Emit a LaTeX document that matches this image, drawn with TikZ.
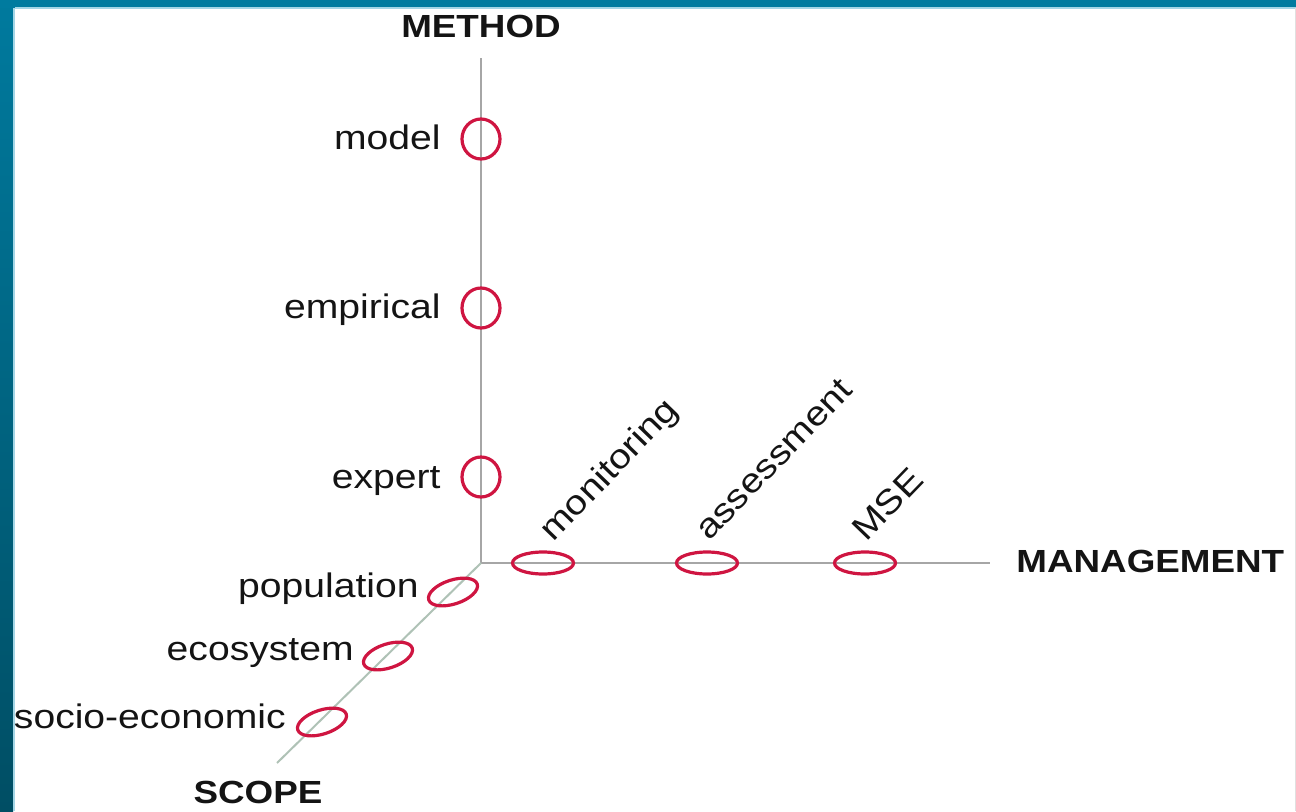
\documentclass[tikz,border=0pt]{standalone}
\usepackage{graphicx}
\usepackage{fontspec}
\setmainfont{Liberation Sans}
\usetikzlibrary{shapes.geometric}

% slightly widened lettering
\newcommand{\widetext}[1]{\scalebox{1.15}[1]{#1}}

\definecolor{barblue}{HTML}{007B9F}
\definecolor{bartop}{HTML}{007A9E}
\definecolor{barbottom}{HTML}{004E64}
\definecolor{barlight}{HTML}{A4D6E6}
\definecolor{axisgray}{HTML}{A6A6A6}
\definecolor{diaggray}{HTML}{AFC2B6}
\definecolor{markred}{HTML}{CF1541}
\definecolor{inktext}{HTML}{141414}

\tikzset{
  axisline/.style={draw=axisgray, line width=1pt},
  diagline/.style={draw=diaggray, line width=1pt},
  ring/.style={ellipse, draw=markred, line width=1.6pt, inner sep=0pt,
               minimum width=19pt, minimum height=20pt},
  flatring/.style={ellipse, draw=markred, line width=1.6pt, inner sep=0pt,
                   minimum width=30.5pt, minimum height=11pt},
  tiltring/.style={ellipse, draw=markred, line width=1.6pt, inner sep=0pt,
                   minimum width=25.5pt, minimum height=12pt, rotate=18},
  lab/.style={font=\fontsize{17}{20}\selectfont, text=inktext, inner sep=0pt},
  axislab/.style={font=\fontsize{16}{19}\selectfont\bfseries, text=inktext, inner sep=0pt},
}

\begin{document}
\begin{tikzpicture}[x=0.5pt, y=0.5pt]
  \useasboundingbox (0,0) rectangle (1296,811);

  % page frame
  \fill[white] (0,0) rectangle (1296,811);
  \shade[bottom color=barbottom, top color=bartop] (0,0) rectangle (13,811);
  \fill[barlight] (13,0) rectangle (15,803);
  \fill[barblue] (0,803) rectangle (1296,811);
  \fill[barlight] (15,802) rectangle (1296,803.5);
  \fill[black!12] (1295,0) rectangle (1296,803);

  % axis end points
  \coordinate (O) at (481,248);
  \coordinate (mtop) at (481,753);
  \coordinate (gend) at (990,248);
  \coordinate (send) at (277,48);

  % axes
  \draw[axisline] (O) -- (mtop);
  \draw[axisline] (O) -- (gend);
  \draw[diagline] (O) -- (send);

  % method axis
  \node[ring] (model) at (481,672) {};
  \node[ring] (empirical) at (481,503) {};
  \node[ring] (expert) at (481,334) {};
  \node[lab, anchor=base east] (tmodel) at (441,662) {\widetext{model}};
  \node[lab, anchor=base east] (tempirical) at (441,493) {\widetext{empirical}};
  \node[lab, anchor=base east] (texpert) at (441,323) {\widetext{expert}};

  % management axis
  \node[flatring] (monitoring) at (543,248) {};
  \node[flatring] (assessment) at (707,248) {};
  \node[flatring] (mse) at (865,248) {};
  \node[lab, anchor=base west, rotate=46] (tmonitoring) at (553,268) {\widetext{monitoring}};
  \node[lab, anchor=base west, rotate=46] (tassessment) at (709,269) {\widetext{assessment}};
  \node[lab, anchor=base west, rotate=46] (tmse) at (866,268) {\widetext{MSE}};

  % scope axis
  \node[tiltring] (population) at (453,219) {};
  \node[tiltring] (ecosystem) at (388,155) {};
  \node[tiltring] (socio) at (322,89) {};
  \node[lab, anchor=base east] (tpopulation) at (419,214) {\widetext{population}};
  \node[lab, anchor=base east] (tecosystem) at (354,151) {\widetext{ecosystem}};
  \node[lab, anchor=base east] (tsocio) at (286,83) {\widetext{socio-economic}};

  % axis titles
  \node[axislab] (method) at (481,785) {\widetext{METHOD}};
  \node[axislab, anchor=west] (management) at (1016,250) {\widetext{MANAGEMENT}};
  \node[axislab] (scope) at (258,19) {\widetext{SCOPE}};
\end{tikzpicture}
\end{document}
